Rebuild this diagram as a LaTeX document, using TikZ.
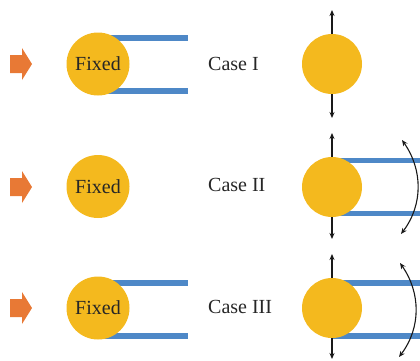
\documentclass[tikz,border=0pt]{standalone}
\usepackage{fontspec}
\setmainfont{Liberation Serif}
\usetikzlibrary{arrows.meta}
\definecolor{ballc}{HTML}{F4B91E}
\definecolor{barc}{HTML}{4E88C7}
\definecolor{orngc}{HTML}{E87935}
\tikzset{
  ball/.style={circle, fill=ballc, inner sep=0pt, minimum size=63pt, font=\fontsize{20}{24}\selectfont, text=black!85},
  rball/.style={circle, fill=ballc, inner sep=0pt, minimum size=60pt},
  bar/.style={draw=barc, line width=6pt},
  vec/.style={draw=black!90, line width=1.1pt, -{Stealth[length=6pt,width=5pt]}},
  rot/.style={draw=black!90, line width=1.1pt, {Stealth[length=6pt,width=5pt]}-{Stealth[length=6pt,width=5pt]}},
  caselbl/.style={anchor=west, inner sep=0pt, font=\fontsize{20}{24}\selectfont, text=black!85},
  push/.pic={\fill[orngc] (-11,-9) -- (1,-9) -- (1,-16) -- (11,0) -- (1,16) -- (1,9) -- (-11,9) -- cycle;}
}
\begin{document}
\begin{tikzpicture}[x=1pt,y=-1pt]
\useasboundingbox (0,0) rectangle (420,360);
% orange push arrows
\pic at (21,64) {push};
\pic at (21,187) {push};
\pic at (21,308) {push};
% bars (behind balls)
\draw[bar] (98,38) -- (188,38);
\draw[bar] (98,91) -- (188,91);
\draw[bar] (98,282.5) -- (188,282.5);
\draw[bar] (98,336) -- (188,336);
\draw[bar, line width=5.5pt] (332,160.5) -- (420,160.5);
\draw[bar, line width=5.5pt] (332,213.5) -- (420,213.5);
\draw[bar] (332,283) -- (420,283);
\draw[bar] (332,335.5) -- (420,335.5);
% left balls
\node[ball] (L1) at (98,64) {Fixed};
\node[ball] (L2) at (98,186.5) {Fixed};
\node[ball] (L3) at (98,308) {Fixed};
% labels
\node[caselbl] (C1) at (208,64) {Case I};
\node[caselbl] (C2) at (208,184.5) {Case II};
\node[caselbl] (C3) at (208,307) {Case III};
% right balls
\node[rball] (R1) at (332,64) {};
\node[rball] (R2) at (332,187) {};
\node[rball] (R3) at (332,308) {};
\coordinate (R1u) at (332,10);
\coordinate (R1d) at (332,118);
\coordinate (R2u) at (332,133);
\coordinate (R2d) at (332,239);
\coordinate (R3u) at (332,254);
\coordinate (R3d) at (332,359);
\draw[vec] (R1.north) -- (R1u);
\draw[vec] (R1.south) -- (R1d);
\draw[vec] (R2.north) -- (R2u);
\draw[vec] (R2.south) -- (R2d);
\draw[vec] (R3.north) -- (R3u);
\draw[vec] (R3.south) -- (R3d);
% rotation arrows
\coordinate (T2a) at (402,140);
\coordinate (T2b) at (401,234);
\coordinate (T3a) at (400,263);
\coordinate (T3b) at (399,357);
\draw[rot] (T2a) .. controls (423,170) and (423,205) .. (T2b);
\draw[rot] (T3a) .. controls (421,293) and (421,328) .. (T3b);
\end{tikzpicture}
\end{document}
